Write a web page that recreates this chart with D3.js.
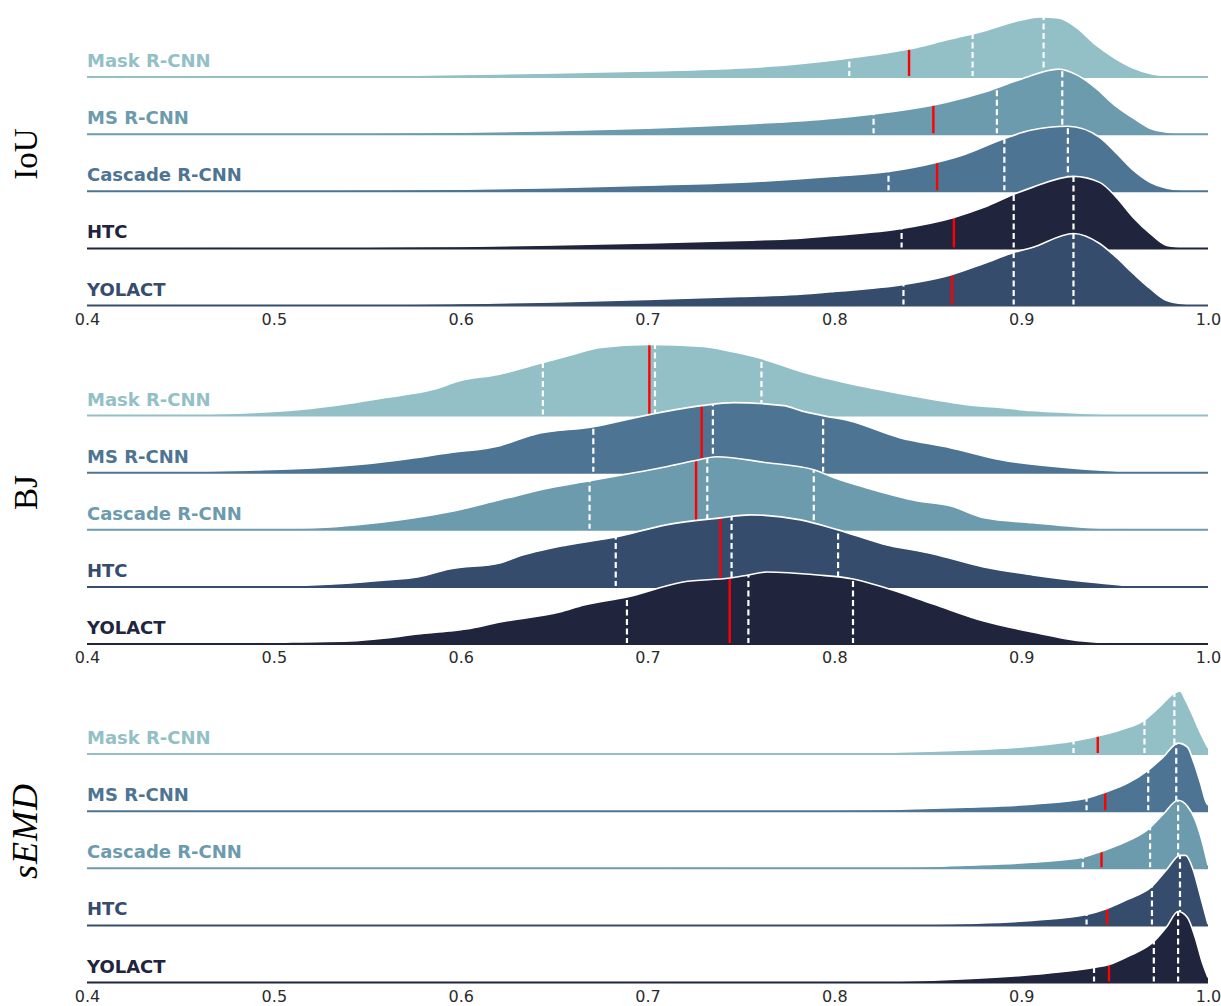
<!DOCTYPE html>
<html>
  <head>
    <meta charset="UTF-8">
    <title>Ridgeline densities: IoU, BJ, sEMD</title>
    <script src="https://cdnjs.cloudflare.com/ajax/libs/d3/7.8.5/d3.min.js"></script>
    <style type="text/css">
      body {
        margin: 0px;
        background: #fff;
      }
      .model-label {
        font-family: "DejaVu Sans", sans-serif;
        font-weight: bold;
        font-size: 18px;
      }
      .metric-label {
        font-family: "Liberation Serif", "DejaVu Serif", serif;
        font-size: 33px;
        fill: #000;
      }
      .tick text {
        font-family: "DejaVu Sans", sans-serif;
        font-size: 16px;
        fill: #2b2b2b;
      }
    </style>
  </head>
  <body>
    <div id="chart"></div>
    <script>
      // models and metrics
      const models = ["Mask R-CNN", "MS R-CNN", "Cascade R-CNN", "HTC", "YOLACT"];
      const metrics = ["IoU", "BJ", "sEMD"];
      const xTicks = [0.4, 0.5, 0.6, 0.7, 0.8, 0.9, 1.0];

      // row colours per panel
      const iouColors = ["#92c0c6", "#6b9bad", "#4e7493", "#20243d", "#364c6d"];
      const bjColors = ["#92c0c6", "#4e7493", "#6b9bad", "#364c6d", "#20243d"];
      const semdColors = ["#92c0c6", "#4e7493", "#6b9bad", "#364c6d", "#20243d"];

      // density estimates, [value, density]
      const iouMask = [[0.40,0],[0.45,0.02],[0.50,0.05],[0.55,0.1],[0.60,0.25],[0.65,0.4],[0.70,0.6],[0.75,0.9],[0.78,1.3],[0.80,1.7],[0.82,2.2],[0.84,2.8],[0.86,3.7],[0.88,4.6],[0.90,5.7],[0.91,6.0],[0.92,5.9],[0.93,4.9],[0.94,3.2],[0.95,1.9],[0.96,0.9],[0.97,0.3],[0.98,0.1],[0.99,0.02],[1.0,0]];
      const iouMS = [[0.40,0],[0.45,0.02],[0.50,0.05],[0.55,0.1],[0.60,0.2],[0.65,0.35],[0.70,0.6],[0.75,1.0],[0.80,1.6],[0.82,2.0],[0.84,2.5],[0.86,3.2],[0.88,4.2],[0.90,5.5],[0.92,6.5],[0.93,5.9],[0.94,4.6],[0.95,2.9],[0.96,1.6],[0.97,0.5],[0.98,0.15],[0.99,0.03],[1.0,0]];
      const iouCascade = [[0.40,0],[0.45,0.03],[0.50,0.06],[0.55,0.12],[0.60,0.2],[0.65,0.35],[0.70,0.6],[0.75,0.9],[0.80,1.5],[0.83,2.0],[0.855,2.9],[0.87,3.7],[0.89,5.2],[0.905,6.1],[0.925,6.5],[0.942,5.4],[0.951,3.8],[0.96,2.1],[0.969,0.9],[0.978,0.3],[0.99,0.05],[1.0,0]];
      const iouHTC = [[0.40,0],[0.45,0.03],[0.50,0.06],[0.55,0.12],[0.60,0.2],[0.65,0.35],[0.70,0.55],[0.75,0.8],[0.78,1.0],[0.80,1.3],[0.836,2.0],[0.864,3.1],[0.88,4.1],[0.896,5.4],[0.906,6.1],[0.928,7.2],[0.942,6.6],[0.951,5.1],[0.96,3.1],[0.969,1.5],[0.978,0.3],[0.99,0.05],[1.0,0]];
      const iouYOLACT = [[0.40,0],[0.45,0.01],[0.50,0.03],[0.55,0.08],[0.60,0.2],[0.65,0.35],[0.70,0.6],[0.75,0.9],[0.78,1.1],[0.80,1.4],[0.837,2.1],[0.863,3.1],[0.88,4.2],[0.896,5.3],[0.906,5.8],[0.928,7.2],[0.942,6.2],[0.951,4.8],[0.96,3.2],[0.969,1.7],[0.978,0.5],[0.99,0.1],[1.0,0]];

      const bjMask = [[0.40,0],[0.43,0.03],[0.46,0.1],[0.49,0.3],[0.514,0.6],[0.54,1.2],[0.56,1.8],[0.585,2.6],[0.60,3.5],[0.62,4.1],[0.644,5.3],[0.66,6.1],[0.675,6.8],[0.70,7.1],[0.73,6.9],[0.745,6.4],[0.761,5.7],[0.782,4.4],[0.808,3.2],[0.835,2.2],[0.853,1.6],[0.87,1.1],[0.889,0.8],[0.905,0.5],[0.925,0.3],[0.95,0.1],[0.98,0.02],[1.0,0]];
      const bjMS = [[0.40,0],[0.44,0.05],[0.487,0.25],[0.523,0.5],[0.55,0.9],[0.568,1.3],[0.594,2.0],[0.621,2.7],[0.639,3.8],[0.671,4.6],[0.701,5.8],[0.729,6.7],[0.746,7.0],[0.773,6.7],[0.782,6.2],[0.794,5.7],[0.808,5.2],[0.835,3.5],[0.862,2.5],[0.889,1.3],[0.925,0.5],[0.96,0.1],[1.0,0]];
      const bjCascade = [[0.40,0],[0.45,0.02],[0.487,0.07],[0.523,0.2],[0.545,0.5],[0.568,1.0],[0.594,1.8],[0.621,3.0],[0.648,4.2],[0.669,4.9],[0.687,5.5],[0.71,6.3],[0.725,6.9],[0.737,7.3],[0.764,6.7],[0.789,6.0],[0.80,5.2],[0.817,4.2],[0.844,2.9],[0.862,2.4],[0.88,1.2],[0.906,0.7],[0.942,0.15],[0.97,0.03],[1.0,0]];
      const bjHTC = [[0.40,0],[0.45,0.03],[0.487,0.07],[0.52,0.2],[0.541,0.4],[0.56,0.7],[0.577,1.0],[0.594,1.8],[0.621,2.4],[0.63,3.0],[0.657,4.2],[0.683,5.0],[0.71,6.2],[0.739,6.9],[0.755,7.2],[0.782,6.7],[0.802,5.7],[0.826,4.3],[0.853,3.3],[0.88,2.0],[0.906,1.2],[0.942,0.4],[0.965,0.05],[1.0,0]];
      const bjYOLACT = [[0.40,0],[0.45,0.03],[0.487,0.08],[0.51,0.2],[0.541,0.3],[0.56,0.6],[0.577,1.0],[0.594,1.3],[0.603,1.5],[0.621,2.2],[0.653,3.2],[0.666,3.9],[0.689,4.7],[0.719,6.2],[0.744,6.6],[0.754,6.9],[0.764,7.2],[0.791,6.9],[0.81,6.5],[0.826,5.7],[0.853,4.0],[0.88,2.3],[0.906,1.2],[0.933,0.3],[0.96,0.05],[1.0,0]];

      const semdMask = [[0.40,0],[0.60,0.01],[0.70,0.04],[0.782,0.1],[0.835,0.2],[0.871,0.4],[0.906,0.8],[0.928,1.3],[0.941,1.8],[0.953,2.4],[0.966,3.4],[0.974,4.7],[0.982,6.1],[0.985,6.3],[0.988,5.4],[0.992,3.8],[0.996,2.1],[1.0,0.6]];
      const semdMS = [[0.40,0],[0.60,0.01],[0.70,0.03],[0.782,0.07],[0.835,0.2],[0.871,0.4],[0.906,0.7],[0.935,1.3],[0.945,1.9],[0.957,2.8],[0.968,4.1],[0.976,5.4],[0.984,6.8],[0.989,6.4],[0.992,5.1],[0.996,2.8],[0.999,0.9],[1.0,0.6]];
      const semdCascade = [[0.40,0],[0.60,0.01],[0.70,0.03],[0.782,0.05],[0.835,0.1],[0.871,0.3],[0.906,0.6],[0.933,1.1],[0.943,1.7],[0.953,2.4],[0.968,3.9],[0.976,5.4],[0.984,6.8],[0.989,6.2],[0.993,4.9],[0.997,2.6],[1.0,0.3]];
      const semdHTC = [[0.40,0],[0.60,0.01],[0.70,0.02],[0.782,0.03],[0.835,0.07],[0.871,0.2],[0.906,0.5],[0.935,1.1],[0.946,1.7],[0.957,2.6],[0.97,3.9],[0.978,5.6],[0.985,7.0],[0.988,7.0],[0.992,5.6],[0.996,2.9],[1.0,0.1]];
      const semdYOLACT = [[0.40,0],[0.65,0.01],[0.75,0.02],[0.782,0.03],[0.835,0.13],[0.871,0.37],[0.906,0.8],[0.939,1.5],[0.947,1.8],[0.957,2.6],[0.971,4.1],[0.978,5.6],[0.984,7.1],[0.989,6.5],[0.993,4.6],[0.997,2.0],[1.0,0.5]];

      // quartiles (white dashed) and means (red)
      const iouQuartiles = [[0.808,0.874,0.912],[0.821,0.887,0.922],[0.829,0.891,0.925],[0.836,0.896,0.928],[0.837,0.896,0.928]];
      const iouMeans = [0.840, 0.853, 0.855, 0.864, 0.863];
      const bjQuartiles = [[0.644,0.704,0.761],[0.671,0.735,0.794],[0.669,0.732,0.789],[0.683,0.745,0.802],[0.689,0.754,0.810]];
      const bjMeans = [0.701, 0.729, 0.726, 0.739, 0.744];
      const semdQuartiles = [[0.928,0.966,0.982],[0.935,0.968,0.983],[0.933,0.969,0.984],[0.935,0.970,0.985],[0.939,0.971,0.984]];
      const semdMeans = [0.941, 0.945, 0.943, 0.946, 0.947];

      const panels = [
        {metric: metrics[0], colors: iouColors, dens: [iouMask, iouMS, iouCascade, iouHTC, iouYOLACT], q: iouQuartiles, mean: iouMeans},
        {metric: metrics[1], colors: bjColors, dens: [bjMask, bjMS, bjCascade, bjHTC, bjYOLACT], q: bjQuartiles, mean: bjMeans},
        {metric: metrics[2], colors: semdColors, dens: [semdMask, semdMS, semdCascade, semdHTC, semdYOLACT], q: semdQuartiles, mean: semdMeans}
      ];

      const width = 1221, height = 1006;

      const svg = d3.select("#chart").append("svg")
        .attr("width", width)
        .attr("height", height)
        .style("background", "#fff");

      const x = d3.scaleLinear().domain([0.4, 1.0]).range([87, 1208]);
      const row = d3.scalePoint().domain(models).range([77, 305.5]);
      const shift = d3.scaleLinear().domain([0, 2]).range([0, 677]);
      const h = d3.scaleLinear().domain([0, 1]).range([0, 10]);

      const area = d3.area()
        .x(d => x(d[0]))
        .y0(0)
        .y1(d => -h(d[1]))
        .curve(d3.curveMonotoneX);
      const outline = d3.line()
        .x(d => x(d[0]))
        .y(d => -h(d[1]))
        .curve(d3.curveMonotoneX);

      panels.forEach((p, pi) => {
        const panel = svg.append("g").attr("transform", `translate(0,${shift(pi)})`);

        models.forEach((m, i) => {
          const color = p.colors[i];
          const dens = p.dens[i];
          const g = panel.append("g").attr("transform", `translate(0,${row(m)})`);
          const clipId = `clip-${pi}-${i}`;

          g.append("clipPath").attr("id", clipId)
            .append("path").attr("d", area(dens));

          g.append("path")
            .attr("d", area(dens))
            .attr("fill", color);

          const top = -h(d3.max(dens, d => d[1])) - 5;
          g.selectAll("line.quart")
            .data(p.q[i]).enter()
            .append("line")
            .attr("class", "quart")
            .attr("x1", d => x(d)).attr("x2", d => x(d))
            .attr("y1", 0).attr("y2", top)
            .attr("stroke", "#fff")
            .attr("stroke-width", 2.2)
            .attr("stroke-dasharray", "6,3.5")
            .attr("clip-path", `url(#${clipId})`);

          g.append("line")
            .attr("x1", x(p.mean[i])).attr("x2", x(p.mean[i]))
            .attr("y1", 0).attr("y2", top)
            .attr("stroke", "#ff0000")
            .attr("stroke-width", 2.4)
            .attr("clip-path", `url(#${clipId})`);

          g.append("path")
            .attr("d", outline(dens))
            .attr("fill", "none")
            .attr("stroke", "#fff")
            .attr("stroke-width", 1.6);

          g.append("line")
            .attr("x1", x.range()[0]).attr("x2", x.range()[1])
            .attr("y1", 0).attr("y2", 0)
            .attr("stroke", color)
            .attr("stroke-width", 2);

          g.append("text")
            .attr("class", "model-label")
            .attr("x", x.range()[0])
            .attr("y", -10)
            .attr("fill", color)
            .text(m);
        });

        // x axis under the last row
        const axis = panel.append("g")
          .attr("transform", `translate(0,${row(models[models.length - 1])})`)
          .call(d3.axisBottom(x).tickValues(xTicks).tickFormat(d3.format(".1f")).tickSize(0).tickPadding(8));
        axis.select(".domain").remove();

        // metric label
        const cy = 154;
        const lab = panel.append("text")
          .attr("class", "metric-label")
          .attr("text-anchor", "middle")
          .attr("transform", `translate(37,${cy}) rotate(-90)`);
        if (p.metric === "sEMD") {
          lab.style("font-style", "italic").style("font-size", "36px").style("letter-spacing", "1px");
        }
        lab.text(p.metric);
      });
    </script>
  </body>
</html>
